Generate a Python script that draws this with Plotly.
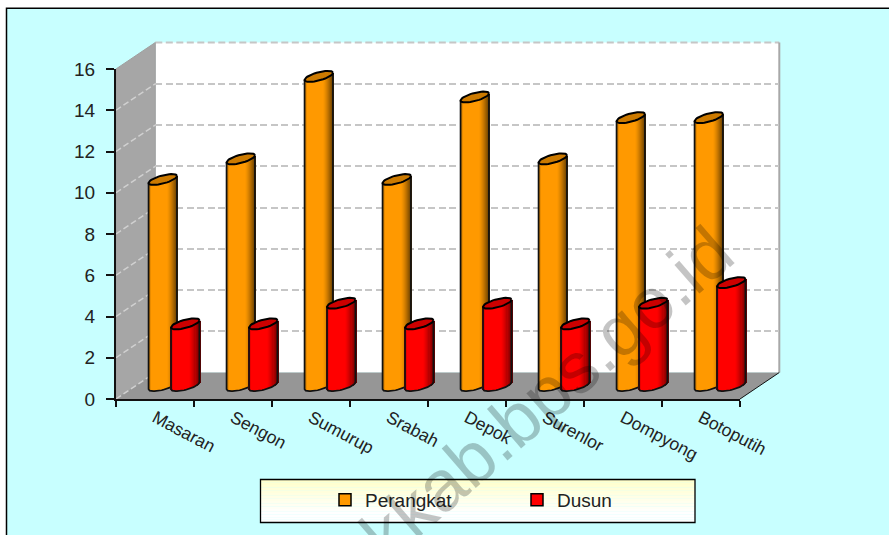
import numpy as np
import plotly.graph_objects as go

categories = ["Masaran", "Sengon", "Sumurup", "Srabah", "Depok", "Surenlor", "Dompyong", "Botoputih"]
perangkat = [10, 11, 15, 10, 14, 11, 13, 13]
dusun = [3, 3, 4, 3, 4, 3, 4, 5]
y_ticks = [0, 2, 4, 6, 8, 10, 12, 14, 16]

W, H = 889, 535
FX0, FX1, FY0, FY1 = 116, 740, 399, 69   # front plane in px
DX, DY = 39.3, -26.5                     # depth offset of the back wall
PX_PER_UNIT = (FY0 - FY1) / 16
PX_PER_CAT = (FX1 - FX0) / 8
R, TILT, FLAT = 14.2, 3.5, 4.2           # cylinder radius and ellipse shape, px
STRIPS = 29
EXT = 12                                 # px of room below the zero line for the rounded feet

def px(x): return x / W
def py(y): return 1 - y / H
def poly(pts):
    return "M" + " L".join(f"{px(a):.5f},{py(b):.5f}" for a, b in pts) + " Z"

def mix(c1, c2, f):
    return "rgb(%d,%d,%d)" % tuple(round(a + (b - a) * f) for a, b in zip(c1, c2))

def shade(base, t):
    dark = (base[0] * 0.42, base[1] * 0.42, base[2] * 0.42)
    if t < -0.8:
        return mix(base, dark, (-0.8 - t) / 0.2 * 0.55)
    if t > 0.3:
        return mix(base, dark, ((t - 0.3) / 0.7) ** 1.4)
    return mix(base, base, 0)

def lower(t):
    return TILT * t - FLAT * np.sqrt(max(0, 1 - t * t))   # px, up is positive

def cylinder(fig, values, name, color, cap, off, xa, ya):
    base = tuple(int(color[i:i + 2], 16) for i in (1, 3, 5))
    xs = np.arange(len(values), dtype=float) + off / PX_PER_CAT
    rw = R / PX_PER_CAT
    # plain bar: carries the legend entry, sits inside the shaded body
    fig.add_bar(x=xs, y=[v - 0.4 for v in values], base=0.4, width=rw, name=name,
                marker=dict(color=color, line=dict(color="#000000", width=1.5)),
                xaxis=xa, yaxis=ya, hoverinfo="skip", cliponaxis=False)
    # shaded strips
    sx, sy, sb, sc = [], [], [], []
    ts = np.linspace(-1, 1, STRIPS)
    for x0, v in zip(xs, values):
        for t in ts:
            sx.append(x0 + t * rw)
            sy.append(v)
            sb.append(lower(float(t)) / PX_PER_UNIT)
            sc.append(shade(base, float(t)))
    fig.add_bar(x=sx, y=sy, base=sb, width=(2 * R / (STRIPS - 1) + 0.5) / PX_PER_CAT,
                marker=dict(color=sc, line=dict(width=0)), showlegend=False,
                xaxis=xa, yaxis=ya, hoverinfo="skip", cliponaxis=False)
    # outline of body and cap
    th = np.linspace(0, 2 * np.pi, 41)
    arc = np.linspace(-1, 1, 25)
    ox, oy, cx, cy = [], [], [], []
    for x0, v in zip(xs, values):
        ox += [x0 - rw] + [x0 + t * rw for t in arc] + [x0 + rw, None]
        oy += [v - TILT / PX_PER_UNIT] + [lower(float(t)) / PX_PER_UNIT for t in arc] + [v + TILT / PX_PER_UNIT, None]
        cx += [x0 + np.cos(a) * rw for a in th] + [None]
        cy += [v + (TILT * np.cos(a) + FLAT * np.sin(a)) / PX_PER_UNIT for a in th] + [None]
    fig.add_scatter(x=ox, y=oy, mode="lines", line=dict(color="#111111", width=1.7),
                    showlegend=False, xaxis=xa, yaxis=ya, hoverinfo="skip", cliponaxis=False)
    fig.add_scatter(x=cx, y=cy, mode="lines", fill="toself", fillcolor=cap,
                    line=dict(color="#000000", width=2), showlegend=False,
                    xaxis=xa, yaxis=ya, hoverinfo="skip", cliponaxis=False)

fig = go.Figure()

# back wall subplot: holds the grid
fig.add_scatter(x=[0], y=[0], mode="markers", marker=dict(opacity=0), showlegend=False,
                xaxis="x", yaxis="y", hoverinfo="skip")
cylinder(fig, perangkat, "Perangkat", "#FF9900", "#CC7A00", -11.9, "x2", "y2")
cylinder(fig, dusun, "Dusun", "#FF0000", "#CC0000", 10.6, "x3", "y3")
# front axes with ticks and labels
fig.add_scatter(x=categories, y=[0] * len(categories), mode="markers", marker=dict(opacity=0),
                showlegend=False, xaxis="x4", yaxis="y4", hoverinfo="skip")

def xdom(o): return [px(FX0 + o), px(FX1 + o)]
def ydom(o): return [py(FY0 + o), py(FY1 + o)]

hidden_x = dict(range=[-0.5, 7.5], visible=False, type="linear", automargin=False)
hidden_y = dict(range=[-EXT / PX_PER_UNIT, 16], visible=False, automargin=False,
                domain=[py(FY0 + DY / 2 + EXT), py(FY1 + DY / 2)])
GRID = dict(color="#C6C6C6", width=2, dash="7px,3.5px")
fig.update_layout(
    template="none",
    xaxis=dict(hidden_x, domain=xdom(DX), anchor="y"),
    yaxis=dict(range=[0, 16], domain=ydom(DY), anchor="x", tickvals=y_ticks, showticklabels=False,
               showgrid=True, gridcolor=GRID["color"], griddash=GRID["dash"], gridwidth=GRID["width"],
               zeroline=False, showline=False, ticks="", automargin=False),
    xaxis2=dict(hidden_x, domain=xdom(DX / 2), anchor="y2"),
    yaxis2=dict(hidden_y, anchor="x2"),
    xaxis3=dict(hidden_x, domain=xdom(DX / 2), anchor="y3"),
    yaxis3=dict(hidden_y, anchor="x3"),
    xaxis4=dict(type="category", categoryorder="array", categoryarray=categories, range=[-0.5, 7.5],
                domain=xdom(0), anchor="y4", tickson="boundaries", ticks="outside", ticklen=6,
                tickwidth=1.8, tickcolor="#111111", showline=True, linecolor="#111111", linewidth=2,
                showgrid=False, zeroline=False, tickangle=28, automargin=False,
                tickfont=dict(family="Liberation Sans", size=17.5, color="#222222")),
    yaxis4=dict(range=[0, 16], domain=ydom(0), anchor="x4", tickvals=y_ticks, ticks="outside",
                ticklen=8, tickwidth=1.8, tickcolor="#111111", showline=True, linecolor="#111111",
                linewidth=2, showgrid=False, zeroline=False, automargin=False, ticklabelstandoff=7,
                tickfont=dict(family="Liberation Sans", size=19, color="#222222")),
)

# frame, walls, floor
shapes = [
    dict(type="rect", xref="paper", yref="paper", x0=px(6.5), x1=px(900), y0=py(8.2), y1=py(550),
         fillcolor="#C8FFFF", line=dict(color="#000000", width=1.5), layer="below"),
    dict(type="path", xref="paper", yref="paper", layer="below", fillcolor="#FFFFFF",
         line=dict(width=0),
         path=poly([(FX0 + DX, FY1 + DY), (FX1 + DX, FY1 + DY), (FX1 + DX, FY0 + DY), (FX0 + DX, FY0 + DY)])),
    dict(type="line", xref="paper", yref="paper", layer="below", line=GRID,
         x0=px(FX0 + DX), y0=py(FY1 + DY), x1=px(FX1 + DX), y1=py(FY1 + DY)),
    dict(type="line", xref="paper", yref="paper", layer="below", line=dict(color="#A8A8A8", width=2),
         x0=px(FX1 + DX), y0=py(FY1 + DY), x1=px(FX1 + DX), y1=py(FY0 + DY)),
    dict(type="path", xref="paper", yref="paper", layer="below", fillcolor="#A6A6A6",
         line=dict(color="#A0A0A0", width=1),
         path=poly([(FX0, FY1), (FX0 + DX, FY1 + DY), (FX0 + DX, FY0 + DY), (FX0, FY0)])),
    dict(type="path", xref="paper", yref="paper", layer="below", fillcolor="#969696",
         line=dict(color="#969696", width=0),
         path=poly([(FX0, FY0), (FX0 + DX, FY0 + DY), (FX1 + DX, FY0 + DY), (FX1, FY0)])),
    dict(type="line", xref="paper", yref="paper", layer="below", line=dict(color="#111111", width=1),
         x0=px(FX1), y0=py(FY0), x1=px(FX1 + DX), y1=py(FY0 + DY)),
]
for v in y_ticks[:-1]:
    yf = FY0 - v * PX_PER_UNIT
    shapes.append(dict(type="line", xref="paper", yref="paper", layer="below",
                       line=dict(color="#D0D0D0", width=1.5, dash="6px,3px"),
                       x0=px(FX0), y0=py(yf), x1=px(FX0 + DX), y1=py(yf + DY)))
# legend box with a soft vertical gradient
LX0, LX1, LY0, LY1 = 260.5, 695, 479.5, 522.5
n = 16
for i in range(n):
    shapes.append(dict(type="rect", xref="paper", yref="paper", layer="below",
                       x0=px(LX0), x1=px(LX1), y0=py(LY0 + (LY1 - LY0) * i / n),
                       y1=py(LY0 + (LY1 - LY0) * (i + 1) / n), line=dict(width=0),
                       fillcolor=mix((255, 255, 204), (255, 255, 255), min(1, i / (n * 0.75)))))
shapes.append(dict(type="rect", xref="paper", yref="paper", layer="below", x0=px(LX0), x1=px(LX1),
                   y0=py(LY0), y1=py(LY1), line=dict(color="#000000", width=1.3)))

fig.update_layout(
    width=W, height=H, autosize=False,
    margin=dict(l=0, r=0, t=0, b=0, pad=0),
    paper_bgcolor="#FFFFFF", plot_bgcolor="rgba(0,0,0,0)",
    barmode="overlay", bargap=0, shapes=shapes, hovermode=False,
    legend=dict(orientation="h", x=px(325), y=py(481), xanchor="left", yanchor="top",
                bgcolor="rgba(0,0,0,0)", borderwidth=0, entrywidth=147, entrywidthmode="pixels",
                font=dict(family="Liberation Sans", size=19, color="#222222"), traceorder="normal"),
    annotations=[dict(text="trenggalekkab.bps.go.id", xref="paper", yref="paper", x=px(433), y=py(492),
                      xanchor="center", yanchor="middle", textangle=-41, showarrow=False,
                      font=dict(family="Liberation Sans", size=72, color="rgba(0,0,0,0.23)"))],
)

fig.write_html("out.html", config=dict(displayModeBar=False),
               post_script="document.body.style.margin='0';")
